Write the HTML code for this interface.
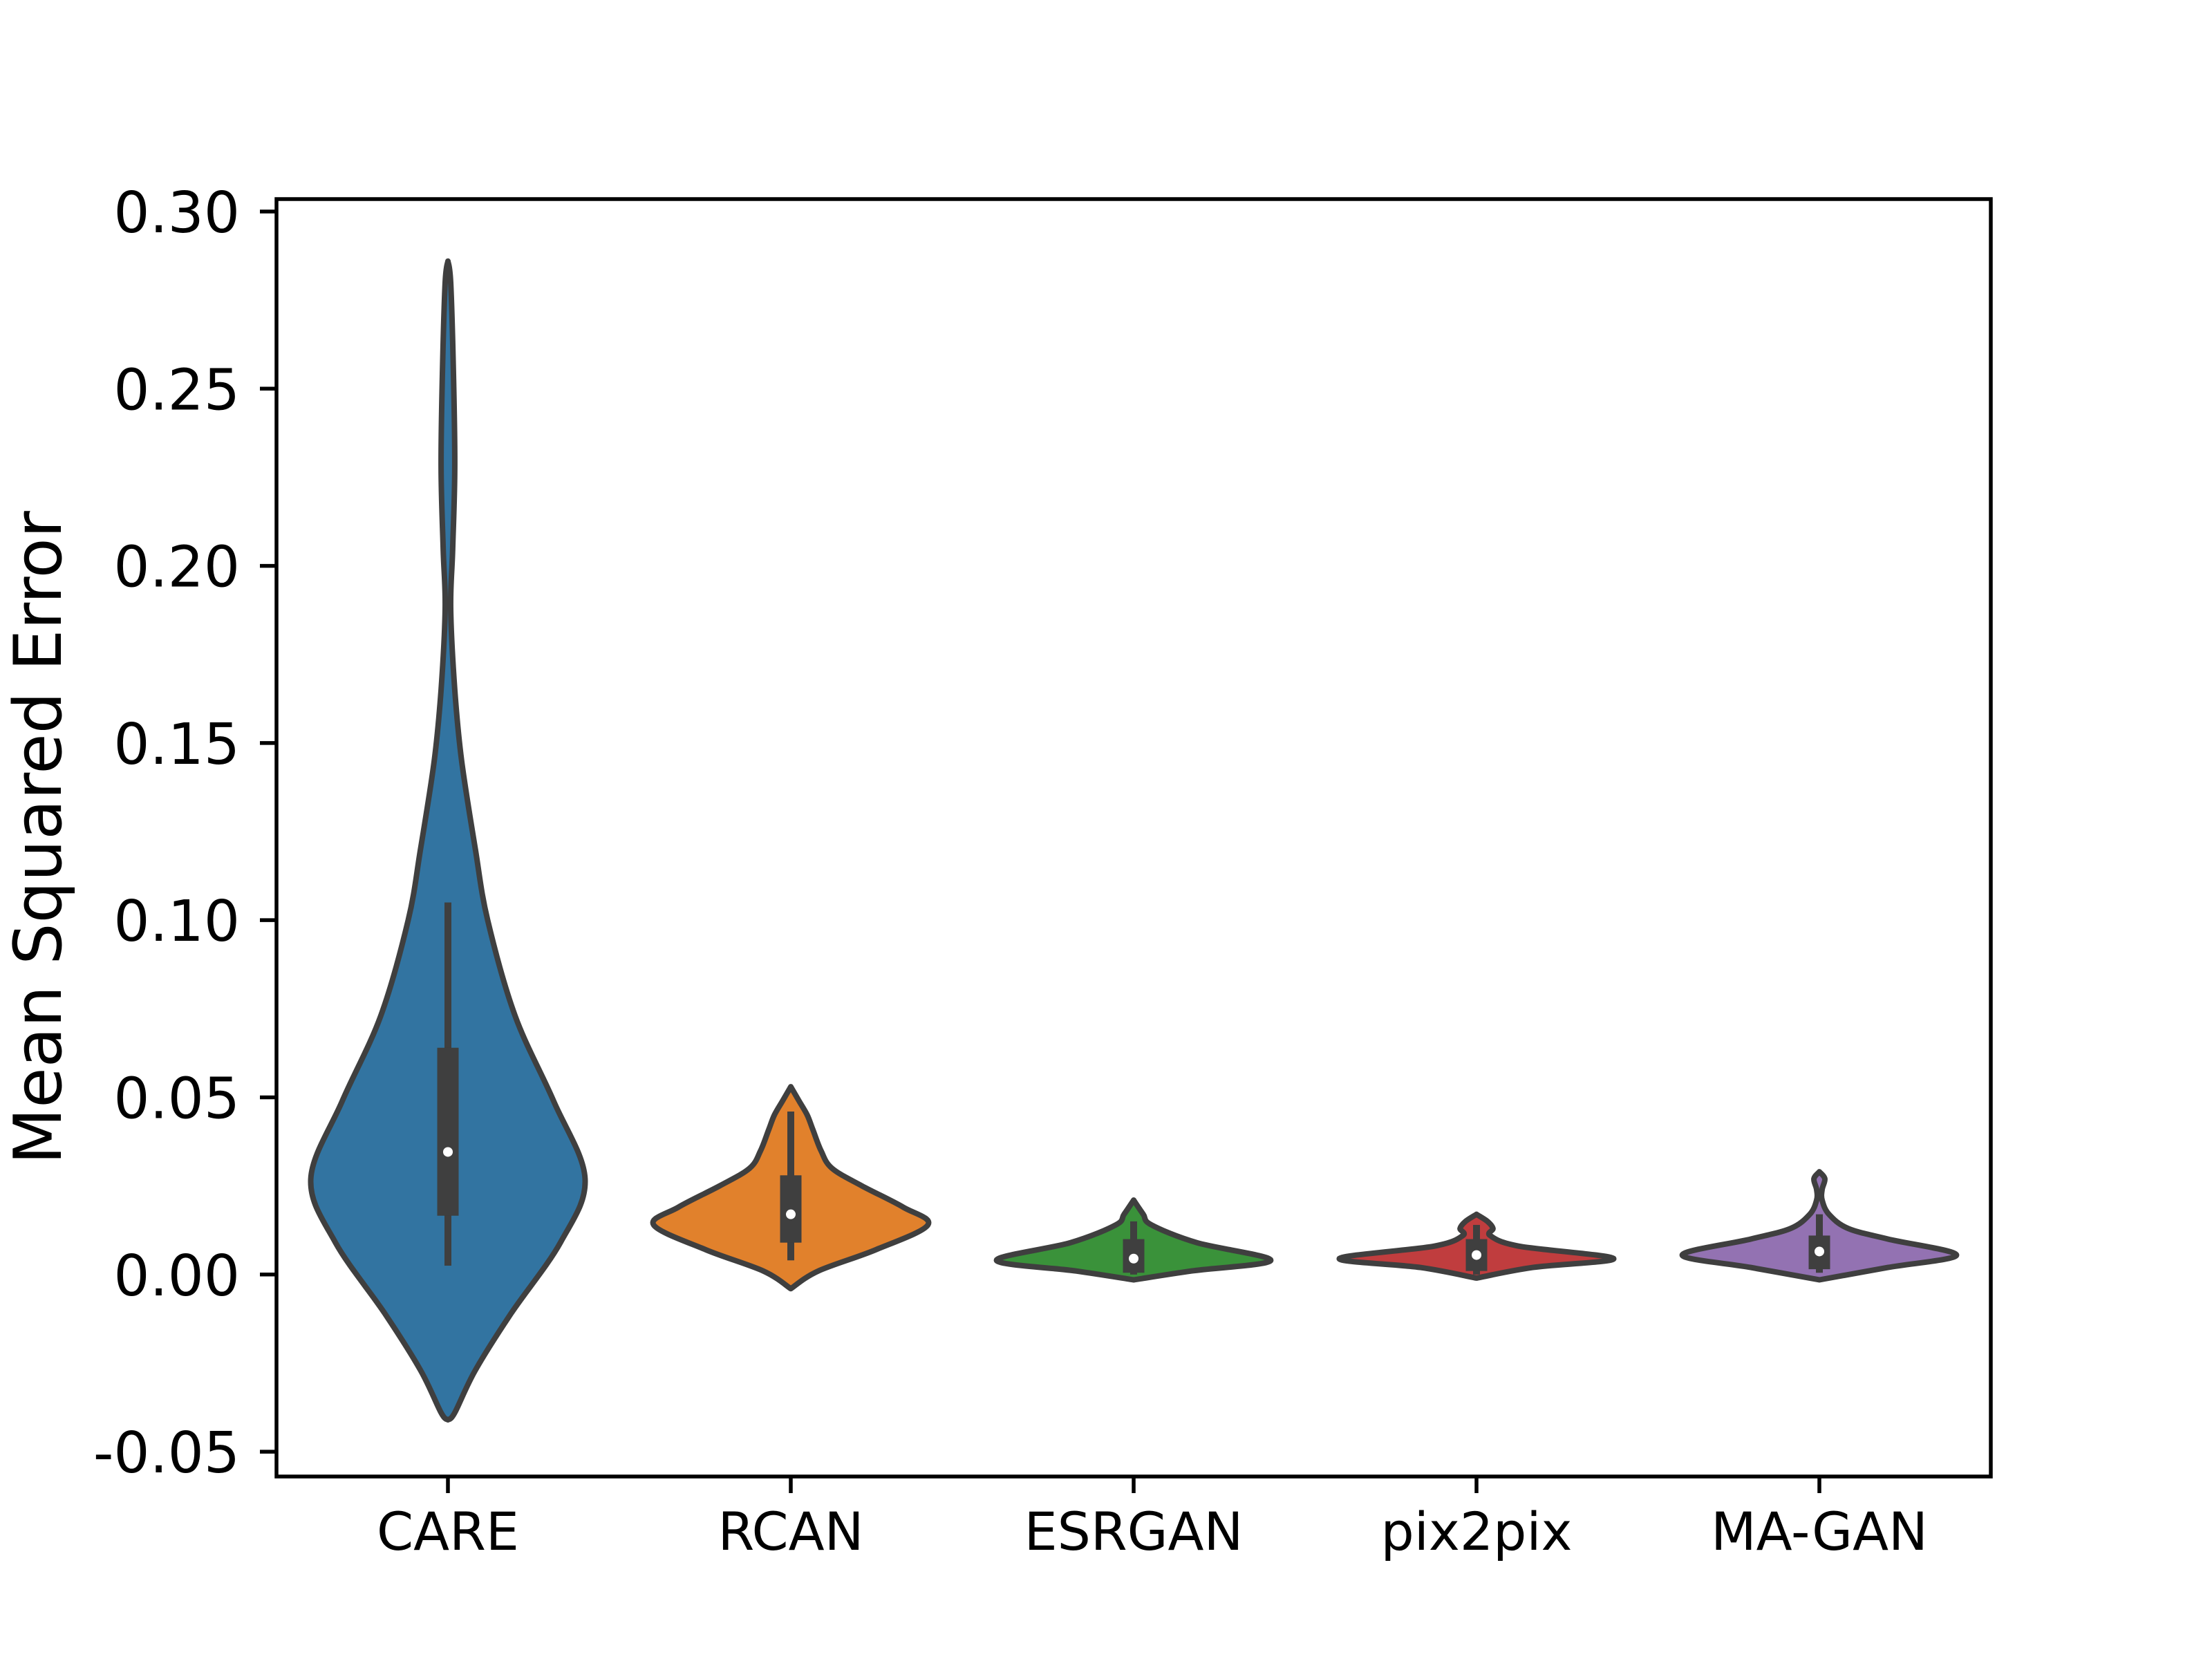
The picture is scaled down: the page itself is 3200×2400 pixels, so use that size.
<!DOCTYPE html>
<html><head><meta charset="utf-8"><style>
html,body{margin:0;padding:0;background:#fff;}
svg{display:block;font-family:"DejaVu Sans","Liberation Sans",sans-serif;}
</style></head><body>
<svg id="chart" width="3200" height="2400" viewBox="0 0 3200 2400" xmlns="http://www.w3.org/2000/svg">
<rect x="0" y="0" width="3200" height="2400" fill="#fff"/>
<g id="plot"></g>
<g id="axes"></g>
<text transform="translate(88,1212) rotate(-90)" text-anchor="middle" font-size="95" fill="#000">Mean Squared Error</text>
</svg>
<script>
const categories = ["CARE","RCAN","ESRGAN","pix2pix","MA-GAN"];
const colors = ["#3274a1","#e1812c","#3a923a","#c03d3e","#9372b2"];
const yTicks = [-0.05,0,0.05,0.10,0.15,0.20,0.25,0.30];
const yTickLabels = ["-0.05","0.00","0.05","0.10","0.15","0.20","0.25","0.30"];
// density profiles: [value, relative half-width (0..1)]
const profCARE = [[0.286,0],[0.28,0.02],[0.255,0.04],[0.228,0.05],[0.205,0.035],[0.188,0.02],[0.165,0.05],[0.145,0.1],[0.12,0.2],[0.10,0.29],[0.073,0.49],[0.049,0.77],[0.027,1],[0.009,0.82],[-0.011,0.46],[-0.027,0.2],[-0.039,0.05],[-0.041,0]];
const profRCAN = [[0.053,0],[0.049,0.06],[0.045,0.12],[0.041,0.16],[0.035,0.22],[0.030,0.3],[0.025,0.52],[0.019,0.82],[0.014,1],[0.007,0.62],[0.001,0.2],[-0.004,0]];
const profESRGAN = [[0.021,0],[0.017,0.07],[0.014,0.13],[0.009,0.46],[0.004,1],[0.001,0.42],[-0.0015,0]];
const profPix = [[0.017,0],[0.015,0.08],[0.013,0.12],[0.011,0.1],[0.008,0.31],[0.0045,1],[0.002,0.41],[-0.001,0]];
const profMAGAN = [[0.029,0],[0.027,0.04],[0.024,0.02],[0.021,0.02],[0.017,0.07],[0.013,0.21],[0.010,0.5],[0.0055,1],[0.002,0.5],[-0.0015,0]];
const profiles = [profCARE,profRCAN,profESRGAN,profPix,profMAGAN];
const q1 = [0.0166,0.009,0.0005,0.001,0.0015];
const q3 = [0.064,0.028,0.010,0.010,0.011];
const medians = [0.0346,0.017,0.0045,0.0055,0.0065];
const whiskLo = [0.0025,0.004,0.000,0.000,0.0005];
const whiskHi = [0.105,0.046,0.015,0.014,0.017];

const L=400,R=2880,T=288,B=2136;
const yMin=-0.057,yMax=0.3035;
function ys(v){return B-(v-yMin)/(yMax-yMin)*(B-T);}
function xs(i){return L+(i+0.5)*(R-L)/categories.length;}
const halfW = 0.4*(R-L)/categories.length;
const NS="http://www.w3.org/2000/svg";
function mk(tag,attrs,parent){const e=document.createElementNS(NS,tag);for(const k in attrs)e.setAttribute(k,attrs[k]);parent.appendChild(e);return e;}
function smooth(pts){
  let d="M"+pts[0][0]+","+pts[0][1];
  for(let i=0;i<pts.length-1;i++){
    const p0=pts[Math.max(0,i-1)],p1=pts[i],p2=pts[i+1],p3=pts[Math.min(pts.length-1,i+2)];
    const c1=[p1[0]+(p2[0]-p0[0])/6,p1[1]+(p2[1]-p0[1])/6];
    const c2=[p2[0]-(p3[0]-p1[0])/6,p2[1]-(p3[1]-p1[1])/6];
    d+=" C"+c1[0].toFixed(1)+","+c1[1].toFixed(1)+" "+c2[0].toFixed(1)+","+c2[1].toFixed(1)+" "+p2[0].toFixed(1)+","+p2[1].toFixed(1);
  }
  return d;
}
const plot=document.getElementById('plot');
const axes=document.getElementById('axes');
categories.forEach((c,i)=>{
  const cx=xs(i);
  const pr=profiles[i];
  const right=pr.map(p=>[cx+p[1]*halfW,ys(p[0])]);
  const left=pr.slice().reverse().map(p=>[cx-p[1]*halfW,ys(p[0])]);
  const g=mk('g',{},plot);
  
  
  const path=mk('path',{d:smooth(right)+" L"+left[0][0]+","+left[0][1]+" "+smooth(left).slice(1).replace(/^[^C]*/,'')+" Z",fill:colors[i],stroke:"#3f3f3f","stroke-width":8,"stroke-linejoin":"round"},g);
  
  
  const wh=mk('rect',{x:cx-5,y:ys(whiskHi[i]),width:10,height:ys(whiskLo[i])-ys(whiskHi[i]),fill:"#3f3f3f"},g);
  
  
  const bx=mk('rect',{x:cx-15.5,y:ys(q3[i]),width:31,height:ys(q1[i])-ys(q3[i]),fill:"#3f3f3f"},g);
  
  
  const md=mk('circle',{cx:cx,cy:ys(medians[i]),r:7,fill:"#fff"},g);
  
  
  const tk=mk('line',{x1:cx,x2:cx,y1:B,y2:B+24,stroke:"#000","stroke-width":5.5},axes);
  
  
  const tl=mk('text',{x:cx,y:B+106,"text-anchor":"middle","font-size":76,fill:"#000"},axes);
  tl.textContent=c;
  
  
});
yTicks.forEach((v,i)=>{
  const y=ys(v);
  const tk=mk('line',{x1:L-24,x2:L,y1:y,y2:y,stroke:"#000","stroke-width":5.5},axes);
  
  
  const tl=mk('text',{x:347,y:y+30,"text-anchor":"end","font-size":82,fill:"#000"},axes);
  tl.textContent=yTickLabels[i];
  
  
});
const fr=mk('rect',{x:L,y:T,width:R-L,height:B-T,fill:"none",stroke:"#000","stroke-width":5.5},axes);


</script>
</body></html>
